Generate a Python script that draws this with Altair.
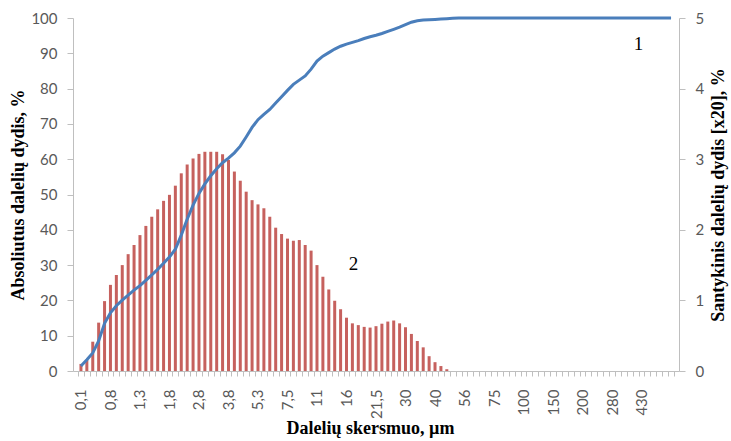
import json
import altair as alt
import pandas as pd

# ---- data ----
size_labels = ["0,1", "0,8", "1,3", "1,8", "2,8", "3,8", "5,3", "7,5", "11", "16",
               "21,5", "30", "40", "56", "75", "100", "150", "200", "280", "430"]
n_categories = 101

# relative size distribution (right axis, %, x20)
relative = [0.100, 0.155, 0.415, 0.685, 0.990, 1.220, 1.360, 1.500, 1.655, 1.785,
            1.925, 2.055, 2.185, 2.290, 2.410, 2.495, 2.625, 2.800, 2.925, 3.010,
            3.075, 3.105, 3.105, 3.105, 3.070, 2.990, 2.825, 2.695, 2.540, 2.420,
            2.360, 2.305, 2.185, 2.030, 1.940, 1.875, 1.845, 1.855, 1.785, 1.705,
            1.500, 1.335, 1.155, 0.995, 0.875, 0.755, 0.675, 0.650, 0.625, 0.615,
            0.635, 0.670, 0.700, 0.715, 0.675, 0.620, 0.525, 0.425, 0.335, 0.210,
            0.125, 0.070, 0.025]

# cumulative size distribution (left axis, %)
cumulative = [1.4, 3.2, 5.1, 8.5, 13.5, 16.5, 18.5, 20.1, 21.5, 22.9,
              24.2, 25.7, 27.2, 28.8, 30.5, 32.3, 34.5, 38.5, 43.0, 47.0,
              50.3, 53.0, 55.3, 57.3, 59.0, 60.3, 61.8, 63.7, 66.3, 69.0,
              71.2, 72.7, 74.1, 75.9, 77.7, 79.5, 81.2, 82.4, 83.6, 85.5,
              87.8, 89.2, 90.2, 91.2, 92.0, 92.6, 93.1, 93.6, 94.2, 94.7,
              95.1, 95.6, 96.2, 96.8, 97.4, 98.1, 98.8, 99.2, 99.4, 99.5,
              99.6, 99.7, 99.8, 99.9] + [100.0] * 37

annot_text = ["1", "2"]
annot_x = [94.5, 46.2]
annot_y = [92.6, 30.3]

# ---- tables ----
df_bar = pd.DataFrame({"i": list(range(len(relative))), "v": relative})
df_line = pd.DataFrame({"i": list(range(len(cumulative))), "v": cumulative})
df_txt = pd.DataFrame({"t": annot_text, "i": annot_x, "v": annot_y})

GRAY = "#bfbfbf"
LABEL = "#595959"
SERIF = "Liberation Serif"
SANS = "Lato"
TITLE_SIZE = 18
LABEL_SIZE = 15

tick_vals = [k - 0.5 for k in range(n_categories + 1)] + [5 * k for k in range(len(size_labels))]
last_lab = str(5 * (len(size_labels) - 1))
label_expr = ("(datum.value % 5 === 0 && datum.value >= 0 && datum.value <= " + last_lab +
              ") ? " + json.dumps(size_labels) + "[datum.value / 5] : ''")

x_scale = alt.Scale(domain=[-0.5, n_categories - 0.5], nice=False, zero=False)
x_axis = alt.Axis(
    values=tick_vals,
    labelExpr=label_expr,
    labelAngle=270,
    labelOverlap=False,
    labelFlush=False,
    labelFont=SANS,
    labelFontSize=LABEL_SIZE,
    labelColor=LABEL,
    labelPadding=13,
    tickSize=5,
    tickColor=GRAY,
    tickOpacity={"condition": {"test": "datum.value % 1 !== 0", "value": 1}, "value": 0},
    domainColor=GRAY,
    grid=False,
    title="Dalelių skersmuo, µm",
    titleFont=SERIF,
    titleFontSize=TITLE_SIZE,
    titleFontWeight="bold",
    titleColor="black",
    titleX=297,
    titleY=57,
    titleBaseline="middle",
)

bars = alt.Chart(df_bar).mark_bar(size=3, color="#c0504d", opacity=0.9).encode(
    x=alt.X("i:Q", scale=x_scale, axis=x_axis),
    y=alt.Y("v:Q", scale=alt.Scale(domain=[0, 5], nice=False),
            axis=alt.Axis(orient="right", values=[0, 1, 2, 3, 4, 5], grid=False,
                          labelFont=SANS, labelFontSize=LABEL_SIZE, labelColor=LABEL,
                          labelPadding=10, tickSize=6, tickColor=GRAY, domainColor=GRAY,
                          title="Santykinis dalelių dydis [x20], %",
                          titleFont=SERIF, titleFontSize=TITLE_SIZE, titleFontWeight="bold",
                          titleColor="black", titleAngle=270, titleX=39,
                          titleBaseline="middle")),
)

line = alt.Chart(df_line).mark_line(color="#4a7ebb", strokeWidth=3).encode(
    x=alt.X("i:Q", scale=x_scale, axis=x_axis),
    y=alt.Y("v:Q", scale=alt.Scale(domain=[0, 100], nice=False),
            axis=alt.Axis(orient="left", values=list(range(0, 101, 10)), grid=False,
                          labelFont=SANS, labelFontSize=LABEL_SIZE, labelColor=LABEL,
                          labelPadding=10, tickSize=6, tickColor=GRAY, domainColor=GRAY,
                          title="Absoliutus dalelių dydis, %",
                          titleFont=SERIF, titleFontSize=TITLE_SIZE, titleFontWeight="bold",
                          titleColor="black", titleAngle=270, titleX=-55,
                          titleBaseline="middle")),
)

text = alt.Chart(df_txt).mark_text(font=SERIF, fontSize=19, color="black",
                                   align="center", baseline="middle").encode(
    x=alt.X("i:Q", scale=x_scale, axis=x_axis),
    y=alt.Y("v:Q", scale=alt.Scale(domain=[0, 100], nice=False), axis=None),
    text="t:N",
)

chart = alt.layer(bars, line, text).resolve_scale(y="independent").properties(
    width=606,
    height=353,
    autosize=alt.AutoSizeParams(type="none"),
    padding={"left": 73, "top": 18, "right": 52, "bottom": 70},
    background="white",
).configure_view(stroke=None)

chart.save("out.html", embed_options={"renderer": "svg", "actions": False})
